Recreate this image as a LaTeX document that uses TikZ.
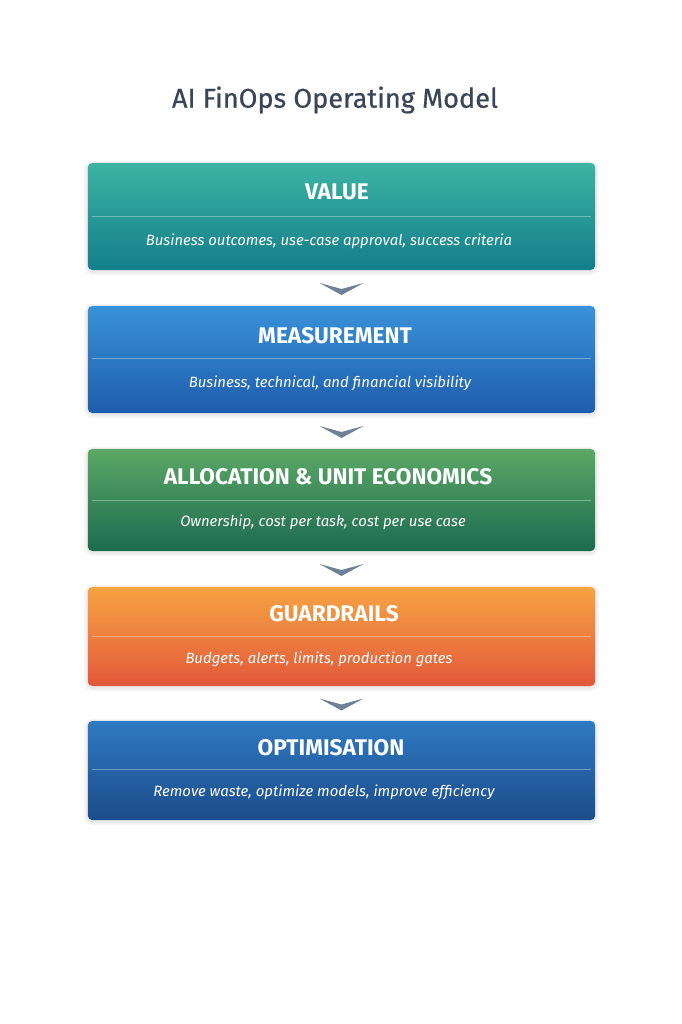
\documentclass[tikz,border=0pt]{standalone}
\usepackage{fontspec}
\setmainfont{Fira Sans}
\newfontfamily\titlefont[FakeBold=0.6]{Fira Sans}
\usetikzlibrary{calc}

\definecolor{titlegrey}{HTML}{3A4658}
\definecolor{tealA}{HTML}{3DB3A2}
\definecolor{tealB}{HTML}{137E8B}
\definecolor{blueA}{HTML}{3A92D8}
\definecolor{blueB}{HTML}{1E5DAD}
\definecolor{greenA}{HTML}{5BA866}
\definecolor{greenB}{HTML}{1D6B50}
\definecolor{orangeA}{HTML}{F7A443}
\definecolor{orangeB}{HTML}{E2583A}
\definecolor{navyA}{HTML}{2F7AC2}
\definecolor{navyB}{HTML}{1B4C8A}
\definecolor{chevgrey}{HTML}{6E8197}

\begin{document}
\begin{tikzpicture}[x=0.025cm, y=-0.025cm,
    stage/.style={rectangle, rounded corners=3pt, minimum width=12.675cm, inner sep=0pt, shading angle=70},
    heading/.style={text=white, font=\bfseries\fontsize{16.1}{19}\selectfont},
    detail/.style={text=white, font=\itshape\fontsize{10.6}{13}\selectfont},
    divider/.style={white, opacity=0.35, line width=0.6pt},
    chevron/.style={fill=chevgrey}]
        \useasboundingbox[fill=white] (0, 0) rectangle (682, 1024);
        \node[text=titlegrey, font=\titlefont\fontsize{19.3}{23}\selectfont] (title) at (335, 100) {AI FinOps Operating Model};

        % soft shadows under the stages
        \foreach \ytop/\ybot in {163/270, 306/413, 449/551, 587/686, 721/820} {
            \fill[black, opacity=0.04, rounded corners=6pt] (84, \ytop-2) rectangle (599, \ybot+5);
            \fill[black, opacity=0.04, rounded corners=5pt] (86, \ytop) rectangle (597, \ybot+3);
        }

        % stages
        \node[stage, minimum height=2.675cm, top color=tealA, bottom color=tealB] (value) at (341.5, 216.5) {};
        \node[stage, minimum height=2.675cm, top color=blueA, bottom color=blueB] (measure) at (341.5, 359.5) {};
        \node[stage, minimum height=2.55cm, top color=greenA, bottom color=greenB] (alloc) at (341.5, 500) {};
        \node[stage, minimum height=2.475cm, top color=orangeA, bottom color=orangeB] (guard) at (341.5, 636.5) {};
        \node[stage, minimum height=2.475cm, top color=navyA, bottom color=navyB] (optim) at (341.5, 770.5) {};

        % dividers
        \draw[divider] (92, 216) -- (591, 216);
        \draw[divider] (92, 358) -- (591, 358);
        \draw[divider] (92, 500) -- (591, 500);
        \draw[divider] (92, 636) -- (591, 636);
        \draw[divider] (92, 769) -- (591, 769);

        % texts
        \node[heading] (valuehead) at (337, 192) {VALUE};
        \node[detail] (valuetext) at (329, 241) {Business outcomes, use-case approval, success criteria};
        \node[heading] (measurehead) at (335, 336) {MEASUREMENT};
        \node[detail] (measuretext) at (330, 383) {Business, technical, and financial visibility};
        \node[heading] (allochead) at (328, 477) {ALLOCATION \& UNIT ECONOMICS};
        \node[detail] (alloctext) at (323, 522) {Ownership, cost per task, cost per use case};
        \node[heading] (guardhead) at (334, 614) {GUARDRAILS};
        \node[detail] (guardtext) at (319, 659) {Budgets, alerts, limits, production gates};
        \node[heading] (optimhead) at (331, 748) {OPTIMISATION};
        \node[detail] (optimtext) at (324, 792) {Remove waste, optimize models, improve efficiency};

        % chevrons between stages
        \foreach \upper/\lower in {value/measure, measure/alloc, alloc/guard, guard/optim} {
            \coordinate (mid) at ($(\upper.south)!0.5!(\lower.north)$);
            \fill[chevron] ($(mid)+(-22, -5)$) -- ($(mid)+(0, 1)$) -- ($(mid)+(22, -5)$) -- ($(mid)+(0, 7)$) -- cycle;
        }
    \end{tikzpicture}
\end{document}
